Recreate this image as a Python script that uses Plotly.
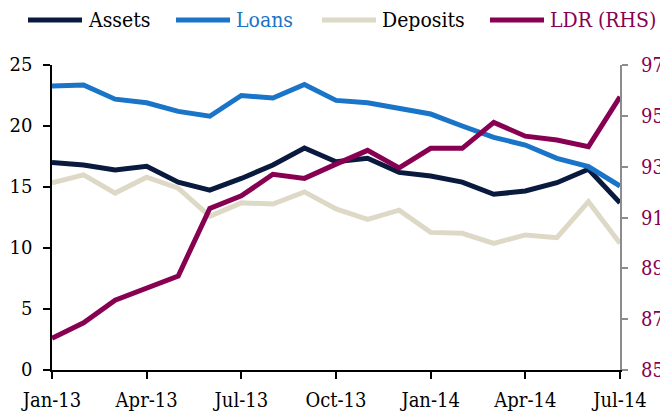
import plotly.graph_objects as go

months = ["Jan-13", "Feb-13", "Mar-13", "Apr-13", "May-13", "Jun-13", "Jul-13", "Aug-13",
          "Sep-13", "Oct-13", "Nov-13", "Dec-13", "Jan-14", "Feb-14", "Mar-14", "Apr-14",
          "May-14", "Jun-14", "Jul-14"]
tick_labels = ["Jan-13", "Apr-13", "Jul-13", "Oct-13", "Jan-14", "Apr-14", "Jul-14"]

assets = [17.0, 16.8, 16.4, 16.7, 15.4, 14.75, 15.7, 16.8, 18.2, 17.07, 17.35, 16.2, 15.9,
          15.4, 14.4, 14.67, 15.35, 16.45, 13.7]
loans = [23.28, 23.36, 22.2, 21.9, 21.2, 20.8, 22.5, 22.3, 23.4, 22.1, 21.9, 21.45, 20.98,
         20.0, 19.07, 18.44, 17.35, 16.67, 15.08]
deposits = [15.35, 16.0, 14.5, 15.8, 14.9, 12.6, 13.7, 13.6, 14.6, 13.2, 12.35, 13.1, 11.28,
            11.2, 10.38, 11.07, 10.85, 13.8, 10.38]
ldr = [86.25, 86.86, 87.75, 88.2, 88.7, 91.36, 91.85, 92.7, 92.54, 93.1, 93.64, 92.95, 93.72,
       93.72, 94.74, 94.2, 94.05, 93.79, 95.75]

names = ["Assets", "Loans", "Deposits", "LDR (RHS)"]
colors = ["#0a1a3e", "#1a74c8", "#ddd9c6", "#870052"]
text_colors = ["#000000", "#1a74c8", "#000000", "#870052"]

FONT = "DejaVu Serif"
FONT_C = "DejaVu Serif Condensed, DejaVu Serif"

fig = go.Figure()
series = [assets, loans, deposits, ldr]
for i, (nm, vals) in enumerate(zip(names, series)):
    fig.add_trace(go.Scatter(
        x=months, y=vals, name=nm, mode="lines",
        line=dict(color=colors[i], width=5),
        yaxis="y2" if i == 3 else "y",
        showlegend=False,
    ))

# manual legend (line samples + labels), positions in paper coords
leg_x = [28, 176, 322, 490]
plot_l, plot_w = 52, 568
plot_b, plot_h = 370, 305
leg_y_px = 20
ly = (plot_b - leg_y_px) / plot_h
shapes = []
annotations = []
for i, nm in enumerate(names):
    x0 = (leg_x[i] - plot_l) / plot_w
    x1 = (leg_x[i] + 54 - plot_l) / plot_w
    shapes.append(dict(type="line", xref="paper", yref="paper", x0=x0, x1=x1, y0=ly, y1=ly,
                       line=dict(color=colors[i], width=5)))
    annotations.append(dict(xref="paper", yref="paper", x=(leg_x[i] + 58 - plot_l) / plot_w,
                            y=ly, xanchor="left", yanchor="middle", showarrow=False,
                            text=nm, font=dict(family=FONT_C, size=21, color=text_colors[i])))

fig.update_layout(
    width=660, height=404,
    margin=dict(l=44, r=48, t=57, b=42),
    paper_bgcolor="white", plot_bgcolor="white",
    font=dict(family=FONT, size=18, color="#000000"),
    shapes=shapes, annotations=annotations,
    xaxis=dict(
        type="category", range=[0, 18], tickmode="array", tickvals=tick_labels,
        ticktext=tick_labels, showgrid=False, zeroline=False, automargin=False,
        showline=True, linecolor="#000000", linewidth=2,
        ticks="outside", ticklen=7, tickwidth=2, tickcolor="#000000",
        ticklabelstandoff=4,
        tickfont=dict(family=FONT_C, size=20, color="#000000"),
    ),
    yaxis=dict(
        range=[0, 25], dtick=5, showgrid=False, zeroline=False, automargin=False,
        showline=True, linecolor="#000000", linewidth=2,
        ticks="outside", ticklen=7, tickwidth=2, tickcolor="#000000",
        ticklabelstandoff=7,
        tickfont=dict(family=FONT, size=18, color="#000000"),
    ),
    yaxis2=dict(
        range=[85, 97], tick0=85, dtick=2, overlaying="y", side="right", showgrid=False,
        zeroline=False, showline=True, linecolor="#8c8c8c", linewidth=2, automargin=False,
        ticks="outside", ticklen=6, tickwidth=2, tickcolor="#8c8c8c",
        ticklabelstandoff=9,
        tickfont=dict(family=FONT_C, size=20, color="#870052"),
    ),
)

fig.write_html("out.html")
